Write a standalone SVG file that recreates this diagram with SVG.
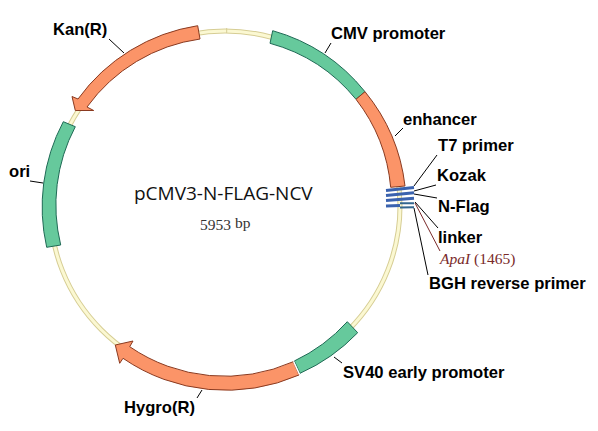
<svg xmlns="http://www.w3.org/2000/svg" width="598" height="431" viewBox="0 0 598 431">
<style>
.bo{fill:none;stroke:#d6cd94;stroke-width:5}
.bi{fill:none;stroke:#fbf8d2;stroke-width:3}
.o{fill:#fb9468;stroke:#8a3a20;stroke-width:1}
.g{fill:#66c99c;stroke:#1f6a55;stroke-width:1}
.b{fill:none;stroke:#3a62ae;stroke-width:3}
.l{stroke:#000;stroke-width:1;fill:none}
text{font-family:"Liberation Sans",Arial,sans-serif;font-size:16.6px;font-weight:bold;fill:#000}
.t{font-family:"Open Sans",sans-serif;font-size:19px;font-weight:normal;fill:#111}
.s{font-family:"Liberation Serif",serif;font-size:15.500px;font-weight:normal;fill:#333}
</style>
<rect width="598" height="431" fill="#fff"/>
<g id="backbone"><circle class="bo" cx="225" cy="206" r="175"/><circle class="bi" cx="225" cy="206" r="175"/><path d="M226.700 28V33" stroke="#d6cd94" fill="none"/></g>
<g id="connectors">
<path class="l" d="M325 53L331 43M395 136L403 128M414 186L437 155M414 191L436 185M414 194L437 198M415 202L438 228M414 208L428 275M124 53L109 39M43 183L30 181M334 357L342 363M202 390L197 398"/>
<path d="M415 203L440 251" fill="none" stroke="#7a2a2a"/>
</g>
<g id="cmv"><path class="g" d="M272.700 30.700A182 182 0 0 1 365 91.700L356 99.300A168 168 0 0 0 270 43.300Z"/><text x="331" y="38.500">CMV promoter</text></g>
<g id="enhancer"><path class="o" d="M365 91.700A182 182 0 0 1 405 186L390.700 187.300A168 168 0 0 0 356 99.300Z"/><text x="403" y="125">enhancer</text></g>
<g id="sites">
<path class="b" d="M386 190.500L414 187.500M386 195.500L414 192.700M386 200.500L414 198.300M386 206L400 205.500"/>
<path d="M400 203.300L414 203.300M400 207.500L414 207.300" fill="none" stroke="#33668f" stroke-width="2"/>
</g>
<g id="t7"><text x="438" y="151">T7 primer</text></g>
<g id="kozak"><text x="437" y="181">Kozak</text></g>
<g id="nflag"><text x="438" y="212">N-Flag</text></g>
<g id="linker"><text x="438" y="243">linker</text></g>
<g id="apai"><text class="s" x="440" y="264" style="fill:#7a2a2a"><tspan font-style="italic">ApaI</tspan> (1465)</text></g>
<g id="bgh"><text x="429" y="288.500">BGH reverse primer</text></g>
<g id="sv40"><path class="g" d="M347.300 321.700L357.700 332.700A182 182 0 0 1 300 373.300L294.300 361A168 168 0 0 0 347.300 321.700Z"/><text x="343" y="378">SV40 early promoter</text></g>
<g id="hygro"><path class="o" d="M293.300 361.700L299 375A182 182 0 0 1 123 358.300L119.700 363.300L115.300 345L133 341L129.700 346.700A168 168 0 0 0 293.300 361.700Z"/><path d="M293.600 361.500L299.500 374.500" stroke="#fff" stroke-width="1.500" fill="none"/><text x="124" y="413">Hygro(R)</text></g>
<g id="ori"><path class="g" d="M63.300 121.700L75.300 126.700A168 168 0 0 0 60.700 245L46.700 247.300A182 182 0 0 1 63.300 121.700Z"/><text x="9" y="177">ori</text></g>
<g id="kan"><path class="o" d="M197.700 25.700L200 39A168 168 0 0 0 87 107L93.700 110.500L75.300 110.500L72 96.500L78 99A182 182 0 0 1 197.700 25.700Z"/><text x="53" y="35">Kan(R)</text></g>
<g id="title"><text class="t" x="134" y="200">pCMV3-N-FLAG-NCV</text><text class="s" x="200" y="230">5953 <tspan dy="-2">bp</tspan></text></g>
</svg>
